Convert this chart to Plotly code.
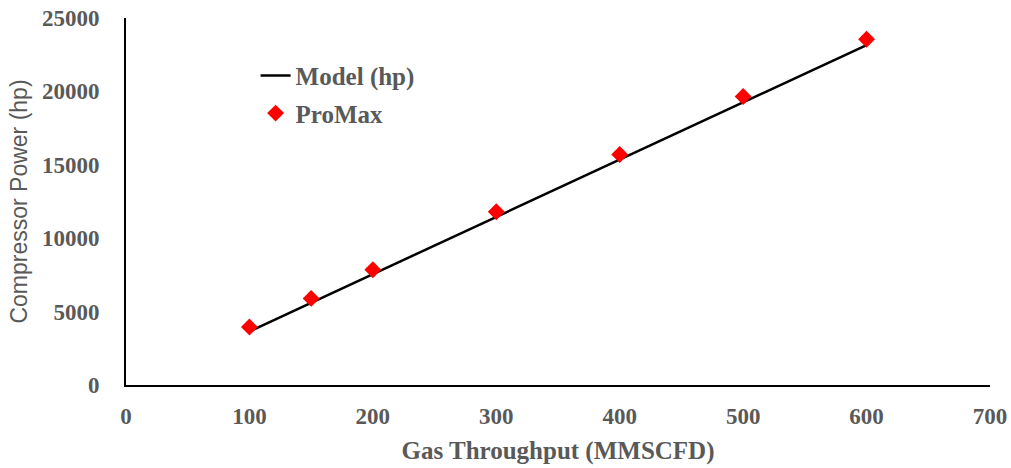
import plotly.graph_objects as go

throughput = [100, 150, 200, 300, 400, 500, 600]
model_hp = [3650, 5600, 7550, 11450, 15350, 19250, 23150]
promax_hp = [3950, 5900, 7850, 11800, 15700, 19650, 23550]

x_ticks = [0, 100, 200, 300, 400, 500, 600, 700]
y_ticks = [0, 5000, 10000, 15000, 20000, 25000]

gray = "#595959"
serif = "Liberation Serif, Times New Roman, serif"

fig = go.Figure()
fig.add_trace(go.Scatter(x=throughput, y=model_hp, mode="lines", name="Model (hp)",
                         legendgroup="a",
                         line=dict(color="black", width=2.5)))
fig.add_trace(go.Scatter(x=throughput, y=promax_hp, mode="markers", name="ProMax",
                         legendgroup="b",
                         marker=dict(symbol="diamond", color="#ff0000", size=13)))

fig.update_layout(
    width=1011, height=468,
    margin=dict(l=126, r=21, t=18, b=83),
    plot_bgcolor="white", paper_bgcolor="white",
    showlegend=True,
    legend=dict(x=0.15, y=0.905, xanchor="left", yanchor="top",
                font=dict(family=serif, size=25, color=gray, weight="bold"),
                bgcolor="rgba(0,0,0,0)", tracegroupgap=2),
    xaxis=dict(range=[0, 700], tickvals=x_ticks, ticktext=[str(v) for v in x_ticks],
               showgrid=False, zeroline=False, showline=True, linecolor="black", linewidth=2,
               ticks="", ticklabelstandoff=9, automargin=False,
               tickfont=dict(family=serif, size=23, color=gray, weight="bold"),
               title=dict(text="Gas Throughput (MMSCFD)", standoff=14,
                          font=dict(family=serif, size=25, color=gray, weight="bold"))),
    yaxis=dict(range=[0, 25000], tickvals=y_ticks, ticktext=[str(v) for v in y_ticks],
               showgrid=False, zeroline=False, showline=True, linecolor="black", linewidth=2,
               ticks="", ticklabelstandoff=20, automargin=False,
               tickfont=dict(family=serif, size=23, color=gray, weight="bold"),
               title=dict(text="Compressor Power (hp)", standoff=8,
                          font=dict(family="Liberation Sans, Arial, sans-serif", size=23, color=gray))),
)

fig.write_html("out.html")
